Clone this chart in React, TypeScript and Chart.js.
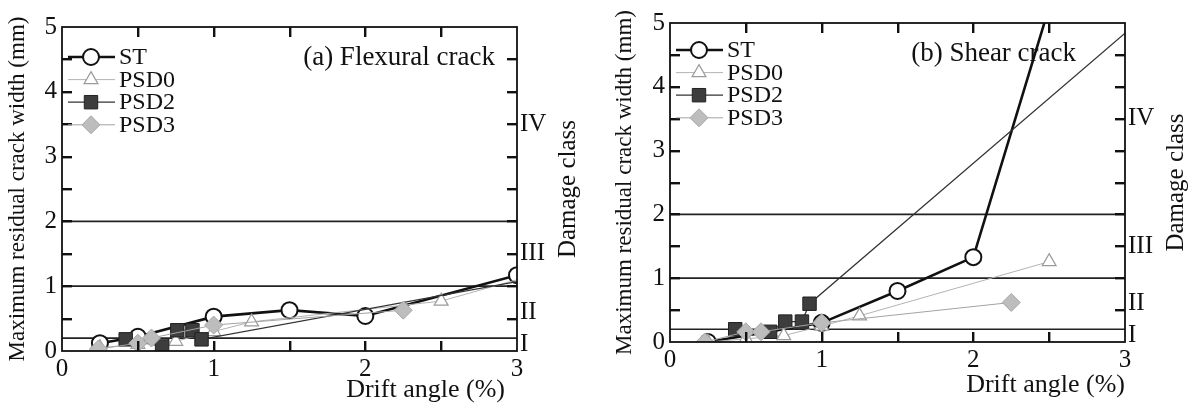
import React, { useEffect, useRef } from 'react';
import { Chart, registerables } from 'chart.js';
import { drawPoint } from 'chart.js/helpers';

Chart.register(...registerables);

const FONT = '"Liberation Serif", "DejaVu Serif", serif';
Chart.defaults.font.family = FONT;
Chart.defaults.color = '#111';

// ---- axes / reference values ----
const X_MIN = 0;
const X_MAX = 3;
const Y_MIN = 0;
const Y_MAX = 5;
const TICK_STEP = 0.5;
const X_TICKS = [0.5, 1, 1.5, 2, 2.5];
const Y_TICKS = [0.5, 1, 1.5, 2, 2.5, 3, 3.5, 4, 4.5];
const DAMAGE_BOUNDS = [0.2, 1, 2];
const DAMAGE_CLASSES = ['I', 'II', 'III', 'IV'];
const DAMAGE_CLASS_AT = [0.1, 0.6, 1.5, 3.5];
const SERIES_NAMES = ['ST', 'PSD0', 'PSD2', 'PSD3'];

// ---- (a) Flexural crack ----
const A_ST_X = [0.25, 0.5, 1.0, 1.5, 2.0, 3.0];
const A_ST_Y = [0.12, 0.22, 0.53, 0.63, 0.54, 1.17];
const A_PSD0_X = [0.25, 0.5, 0.75, 1.0, 1.25, 2.5, 3.0];
const A_PSD0_Y = [0.05, 0.1, 0.15, 0.3, 0.45, 0.77, 1.1];
const A_PSD2_X = [0.42, 0.66, 0.76, 0.86, 0.92, 3.0];
const A_PSD2_Y = [0.18, 0.07, 0.32, 0.32, 0.18, 1.07];
const A_PSD3_X = [0.24, 0.5, 0.59, 1.0, 2.25];
const A_PSD3_Y = [0.03, 0.12, 0.2, 0.4, 0.63];

// ---- (b) Shear crack ----
const B_ST_X = [0.25, 1.0, 1.5, 2.0, 2.5];
const B_ST_Y = [0.0, 0.3, 0.8, 1.33, 5.25];
const B_PSD0_X = [0.25, 0.5, 0.75, 1.0, 1.25, 2.5];
const B_PSD0_Y = [0.0, 0.05, 0.1, 0.25, 0.41, 1.26];
const B_PSD2_X = [0.43, 0.66, 0.76, 0.87, 0.92, 3.0];
const B_PSD2_Y = [0.2, 0.16, 0.32, 0.32, 0.6, 4.84];
const B_PSD3_X = [0.23, 0.5, 0.6, 1.0, 2.25];
const B_PSD3_Y = [0.0, 0.16, 0.16, 0.3, 0.62];

const W = 597;
const H = 407;

const STYLES: Record<string, any> = {
  ST: { line: '#111', lw: 2.6, style: 'circle', r: 8, fill: '#fff', stroke: '#111', bw: 2, order: 4 },
  PSD0: { line: '#b3b3b3', lw: 1, style: 'triangle', r: 8, fill: '#fff', stroke: '#9a9a9a', bw: 1.2, order: 3 },
  PSD2: { line: '#333', lw: 1.2, style: 'rect', r: 9.5, fill: '#3d3d3d', stroke: '#222', bw: 1, order: 2 },
  PSD3: { line: '#a3a3a3', lw: 1, style: 'rectRot', r: 9, fill: '#bdbdbd', stroke: '#a8a8a8', bw: 1, order: 1 },
};

const pts = (xs: number[], ys: number[]) => xs.map((x, i) => ({ x, y: ys[i] }));

const PANELS = [
  {
    key: 'a',
    offsetX: 0,
    title: '(a) Flexural crack',
    area: { l: 62, r: 517, t: 27, b: 351 },
    yTitlePad: 4,
    xTitleInset: 12,
    xTitleDy: 39,
    legendTop: 30,
    series: [pts(A_ST_X, A_ST_Y), pts(A_PSD0_X, A_PSD0_Y), pts(A_PSD2_X, A_PSD2_Y), pts(A_PSD3_X, A_PSD3_Y)],
  },
  {
    key: 'b',
    offsetX: 597,
    title: '(b) Shear crack',
    area: { l: 73, r: 528, t: 23, b: 342 },
    yTitlePad: 14,
    xTitleInset: 0,
    xTitleDy: 43,
    legendTop: 27,
    series: [pts(B_ST_X, B_ST_Y), pts(B_PSD0_X, B_PSD0_Y), pts(B_PSD2_X, B_PSD2_Y), pts(B_PSD3_X, B_PSD3_Y)],
  },
];

function drawFrameAndTicks(chart: any) {
  const ctx = chart.ctx;
  const a = chart.chartArea;
  const xs = chart.scales.x;
  const ys = chart.scales.y;
  const len = 10;
  ctx.save();
  ctx.fillStyle = '#111';
  for (let i = 0; i < X_TICKS.length; i++) {
    const px = Math.round(Number(xs.getPixelForValue(X_TICKS[i])));
    ctx.fillRect(px - 1, Math.round(a.bottom) - len, 2.4, len);
    ctx.fillRect(px - 1, Math.round(a.top), 2.4, len);
  }
  for (let i = 0; i < Y_TICKS.length; i++) {
    const py = Math.round(Number(ys.getPixelForValue(Y_TICKS[i])));
    ctx.fillRect(Math.round(a.left), py - 1, len, 2.4);
    ctx.fillRect(Math.round(a.right) - len, py - 1, len, 2.4);
  }
  ctx.strokeStyle = '#111';
  ctx.lineWidth = 1.8;
  ctx.strokeRect(a.left, a.top, a.right - a.left, a.bottom - a.top);
  ctx.restore();
}

const decor = {
  id: 'decor',
  beforeDatasetsDraw(chart: any) {
    const { ctx, chartArea: a, scales } = chart;
    const y = scales.y;
    ctx.save();
    ctx.strokeStyle = '#222';
    ctx.lineWidth = 1.7;
    DAMAGE_BOUNDS.forEach((v) => {
      const py = y.getPixelForValue(v);
      ctx.beginPath();
      ctx.moveTo(a.left, py);
      ctx.lineTo(a.right, py);
      ctx.stroke();
    });
    ctx.restore();
  },
  afterDraw(chart: any, _args: any, opts: any) {
    drawFrameAndTicks(chart);
    const { ctx, chartArea: a } = chart;
    ctx.save();
    // legend
    ctx.font = `24px ${FONT}`;
    ctx.textBaseline = 'middle';
    ctx.textAlign = 'left';
    SERIES_NAMES.forEach((name, i) => {
      const s = STYLES[name];
      const yy = a.top + opts.legendTop + i * 22.6;
      ctx.strokeStyle = s.line;
      ctx.lineWidth = s.lw;
      ctx.beginPath();
      ctx.moveTo(a.left + 6, yy);
      ctx.lineTo(a.left + 53, yy);
      ctx.stroke();
      ctx.fillStyle = s.fill;
      ctx.strokeStyle = s.stroke;
      ctx.lineWidth = s.bw;
      drawPoint(ctx, { pointStyle: s.style, rotation: 0, radius: s.r, borderWidth: s.bw } as any, a.left + 29, yy);
      ctx.fillStyle = '#111';
      ctx.fillText(name, a.left + 57, yy + 1);
    });
    // panel title
    ctx.font = `27px ${FONT}`;
    ctx.fillStyle = '#111';
    ctx.fillText(opts.title, a.left + 0.53 * (a.right - a.left), a.top + 31);
    // x title
    ctx.font = `26px ${FONT}`;
    ctx.textAlign = 'right';
    ctx.fillText('Drift angle (%)', a.right - opts.xTitleInset, a.bottom + opts.xTitleDy);
    // damage class title
    ctx.translate(a.right + 51, (a.top + a.bottom) / 2);
    ctx.rotate(-Math.PI / 2);
    ctx.textAlign = 'center';
    ctx.font = `25px ${FONT}`;
    ctx.fillText('Damage class', 0, 0);
    ctx.restore();
  },
};

function Panel({ cfg }: { cfg: any }) {
  const ref = useRef<HTMLCanvasElement>(null);
  useEffect(() => {
    const { area } = cfg;
    const datasets = SERIES_NAMES.map((name, i) => {
      const s = STYLES[name];
      return {
        label: name,
        data: cfg.series[i],
        order: s.order,
        borderColor: s.line,
        borderWidth: s.lw,
        pointStyle: s.style,
        pointRadius: (c: any) => (name !== 'ST' && c.raw && c.raw.x >= X_MAX ? 0 : s.r),
        pointBackgroundColor: s.fill,
        pointBorderColor: s.stroke,
        pointBorderWidth: s.bw,
        tension: 0,
        fill: false,
      };
    });
    const chart = new Chart(ref.current as HTMLCanvasElement, {
      type: 'line',
      data: { datasets },
      plugins: [decor],
      options: {
        responsive: false,
        animation: false,
        events: [],
        layout: { padding: { top: area.t, left: 0, right: 0, bottom: 0 } },
        plugins: {
          legend: { display: false },
          tooltip: { enabled: false },
          decor: { title: cfg.title, xTitleInset: cfg.xTitleInset, xTitleDy: cfg.xTitleDy, legendTop: cfg.legendTop },
        } as any,
        scales: {
          x: {
            type: 'linear',
            position: 'bottom',
            min: X_MIN,
            max: X_MAX,
            afterFit: (s: any) => {
              s.height = H - area.b;
            },
            grid: { display: false, drawTicks: false },
            border: { display: false },
            ticks: {
              stepSize: TICK_STEP,
              autoSkip: false,
              maxRotation: 0,
              padding: 3,
              font: { size: 25 },
              color: '#111',
              callback: (v: any) => (Number.isInteger(v) ? String(v) : ''),
            },
          },
          y: {
            type: 'linear',
            position: 'left',
            min: Y_MIN,
            max: Y_MAX,
            afterFit: (s: any) => {
              s.width = area.l;
            },
            grid: { display: false, drawTicks: false },
            border: { display: false },
            ticks: {
              stepSize: TICK_STEP,
              autoSkip: false,
              padding: 5,
              font: { size: 25 },
              color: '#111',
              callback: (v: any) => (Number.isInteger(v) ? String(v) : ''),
            },
            title: {
              display: true,
              text: 'Maximum residual crack width (mm)',
              font: { size: 23 },
              color: '#111',
              padding: { top: cfg.yTitlePad, bottom: 0 },
            },
          },
          y2: {
            type: 'linear',
            position: 'right',
            min: Y_MIN,
            max: Y_MAX,
            afterFit: (s: any) => {
              s.width = W - area.r;
            },
            afterBuildTicks: (s: any) => {
              s.ticks = DAMAGE_CLASS_AT.map((v) => ({ value: v }));
            },
            grid: { display: false, drawTicks: false },
            border: { display: false },
            ticks: {
              autoSkip: false,
              padding: 3,
              font: { size: 25 },
              color: '#111',
              callback: (_v: any, i: number) => DAMAGE_CLASSES[i],
            },
          },
        } as any,
      },
    });
    return () => chart.destroy();
  }, [cfg]);
  return (
    <canvas
      ref={ref}
      width={W}
      height={H}
      style={{ position: 'absolute', left: cfg.offsetX, top: 0, width: W, height: H }}
    />
  );
}

export default function App() {
  return (
    <div style={{ position: 'fixed', left: 0, top: 0, width: 1194, height: 407, background: '#fff', overflow: 'hidden' }}>
      {PANELS.map((p) => (
        <Panel key={p.key} cfg={p} />
      ))}
    </div>
  );
}
